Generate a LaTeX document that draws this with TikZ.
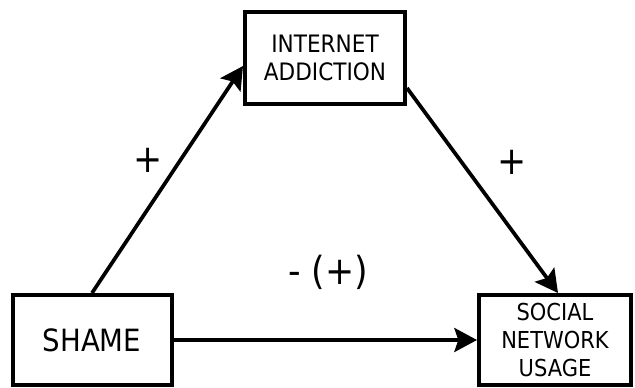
\documentclass[tikz,border=0pt]{standalone}
\usepackage{fontspec}
\setmainfont{DejaVu Sans}[FakeStretch=0.9]
\usepackage{tikz}
\usetikzlibrary{positioning,arrows.meta,calc}

\tikzset{
  box/.style={draw=black, line width=3pt, fill=white, inner sep=0pt, align=center},
  link/.style={line width=2.8pt, -{Stealth[length=17pt,width=18pt,inset=3pt]}},
  sign/.style={inner sep=0pt, font=\fontsize{29}{29}\selectfont}
}

\begin{document}
\begin{tikzpicture}[x=0.75pt,y=-0.75pt]
\useasboundingbox (0,0) rectangle (635,387);
\node[box, minimum width=160*0.75pt, minimum height=92*0.75pt,
      font=\fontsize{18}{21}\selectfont] (inet) at (325,58) {INTERNET\\ADDICTION};
\node[box, minimum width=159*0.75pt, minimum height=90*0.75pt,
      font=\fontsize{23}{26}\selectfont] (shame) at (92,340) {SHAME};
\node[box, minimum width=152*0.75pt, minimum height=90*0.75pt,
      font=\fontsize{17.5}{21}\selectfont] (sns) at (555,340) {SOCIAL\\NETWORK\\USAGE};
% connectors
\draw[link] (shame.north) -- ($(inet.west)+(0,8)$);
\draw[link] ($(inet.east)+(0,30)$) -- ($(sns.north)+(3,0)$);
\draw[link] (shame.east) -- (sns.west);
% signs
\node[sign] (plusA) at (148,160) {+};
\node[sign] (plusB) at (512,162) {+};
\node[sign] (minus) at (328,272) {- (+)};
\end{tikzpicture}
\end{document}
